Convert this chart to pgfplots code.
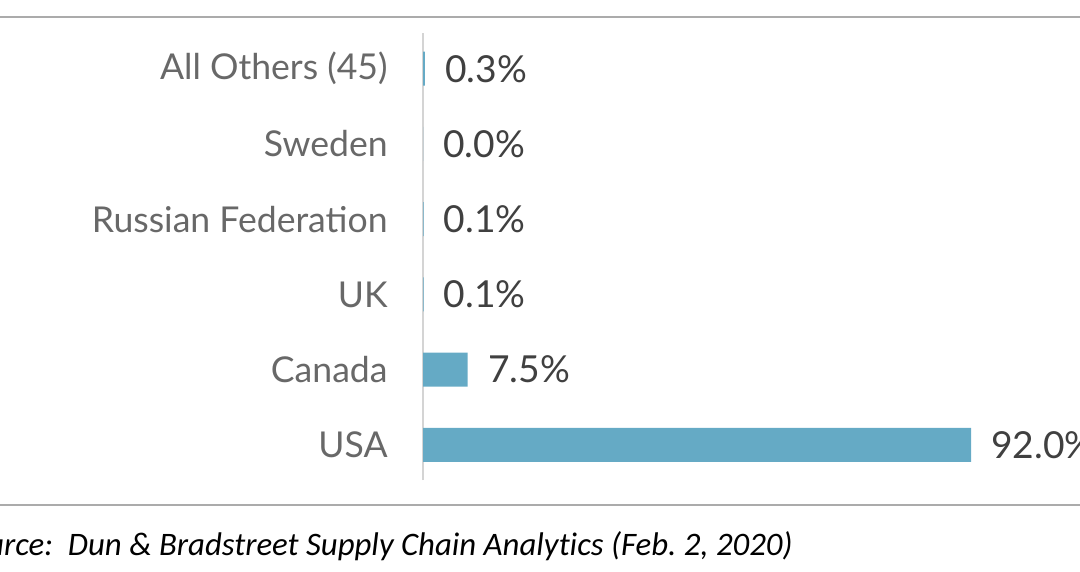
\documentclass[border=0pt]{standalone}
\usepackage{pgfplots}
\pgfplotsset{compat=1.18}
\usepackage{fontspec}
\setmainfont{Lato}
\newfontfamily\srcfont[Ligatures={NoCommon}]{Carlito}
\definecolor{barblue}{HTML}{65AAC5}
\definecolor{lbl}{HTML}{686868}
\definecolor{val}{HTML}{404040}
\definecolor{rule}{HTML}{ABABAB}
\definecolor{axisgray}{HTML}{D4D4D4}
\frenchspacing
\begin{document}
\begin{tikzpicture}
\useasboundingbox (0,0) rectangle (540pt,286pt);
\clip (0,0) rectangle (540pt,286pt);
\draw[rule, line width=1pt] (0,277.5pt) -- (540pt,277.5pt);
\draw[rule, line width=1.2pt] (0,33.5pt) -- (540pt,33.5pt);
\begin{axis}[
  at={(211.5pt,45.9pt)}, anchor=south west,
  scale only axis, width=274pt, height=223.4pt,
  xbar, bar width=17pt,
  xmin=0, xmax=92,
  ymin=-0.47, ymax=5.47,
  axis line style={draw=none},
  hide x axis,
  ytick=data,
  yticklabels={USA,Canada,UK,Russian Federation,Sweden,All Others (45)},
  major tick length=0pt,
  /pgf/number format/assume math mode=true,
  yticklabel style={font=\fontsize{17.8}{20}\selectfont, text=lbl, anchor=east, inner sep=0pt, xshift=-17.5pt},
  nodes near coords={\pgfmathprintnumber[fixed,zerofill,precision=1,assume math mode=true]{\pgfplotspointmeta}\%},
  nodes near coords style={font=\fontsize{18.6}{21}\selectfont, text=val, anchor=west, inner sep=0pt, xshift=10pt},
  clip=false,
]
\draw[axisgray, line width=1pt] (axis cs:0,-0.47) -- (axis cs:0,5.47);
\addplot[fill=barblue, draw=none] coordinates {
 (92.0,0) (7.5,1) (0.1,2) (0.1,3) (0.0,4) (0.3,5)
};
\end{axis}
\node[anchor=base east, inner sep=0pt, text=black, font=\srcfont\itshape\fontsize{16.4}{19}\selectfont] at (396.5pt,8.5pt)
  {Source:\ \ Dun \& Bradstreet Supply Chain Analytics (Feb. 2, 2020)};
\end{tikzpicture}
\end{document}
